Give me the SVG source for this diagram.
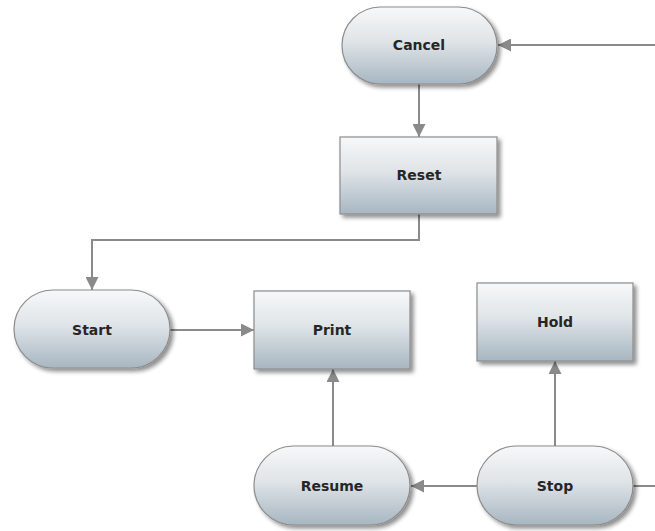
<svg xmlns="http://www.w3.org/2000/svg" width="655" height="531" viewBox="0 0 655 531">
  <style>
    .shape { fill: url(#nodeFill); stroke: #8c8c8c; stroke-width: 1.2; filter: url(#shadow); }
    .label { font-family: "DejaVu Sans", Verdana, sans-serif; font-weight: bold; font-size: 14px; fill: #262626; text-anchor: middle; dominant-baseline: central; }
    .link { fill: none; stroke: #8a8a8a; stroke-width: 2; marker-end: url(#arrow); }
    .plain { fill: none; stroke: #8a8a8a; stroke-width: 2; }
  </style>
  <defs>
    <linearGradient id="nodeFill" x1="0" y1="0" x2="0" y2="1">
      <stop offset="0" stop-color="#f7f8f9"/>
      <stop offset="0.45" stop-color="#dfe4e8"/>
      <stop offset="1" stop-color="#a7b6c1"/>
    </linearGradient>
    <filter id="shadow" x="-10%" y="-10%" width="125%" height="130%">
      <feGaussianBlur in="SourceAlpha" stdDeviation="2"/>
      <feOffset dx="3" dy="3" result="blur"/>
      <feComponentTransfer><feFuncA type="linear" slope="0.45"/></feComponentTransfer>
      <feMerge><feMergeNode/><feMergeNode in="SourceGraphic"/></feMerge>
    </filter>
    <marker id="arrow" viewBox="0 0 10 10" refX="10" refY="5" markerWidth="14" markerHeight="13" markerUnits="userSpaceOnUse" orient="auto">
      <path d="M0,0 L10,5 L0,10 z" fill="#8a8a8a"/>
    </marker>
  </defs>
  <rect width="655" height="531" fill="#ffffff"/>

  <g id="connectors">
    <line class="link" x1="655" y1="45" x2="498" y2="45"/>
    <line class="link" x1="419" y1="84" x2="419" y2="137"/>
    <polyline class="link" points="419,214 419,240 92,240 92,290"/>
    <line class="link" x1="170" y1="330" x2="254" y2="330"/>
    <line class="link" x1="333" y1="446" x2="333" y2="369"/>
    <line class="link" x1="555" y1="446" x2="555" y2="361"/>
    <line class="link" x1="477" y1="486" x2="411" y2="486"/>
    <line class="plain" x1="633" y1="486" x2="655" y2="486"/>
  </g>

  <g id="node-cancel">
    <rect class="shape" x="342" y="7" width="155" height="77" rx="38.5"/>
    <text class="label" x="419" y="45">Cancel</text>
  </g>
  <g id="node-reset">
    <rect class="shape" x="340" y="137" width="157" height="77"/>
    <text class="label" x="419" y="175">Reset</text>
  </g>
  <g id="node-start">
    <rect class="shape" x="14" y="290" width="156" height="78" rx="39"/>
    <text class="label" x="92" y="330">Start</text>
  </g>
  <g id="node-print">
    <rect class="shape" x="254" y="291" width="156" height="78"/>
    <text class="label" x="332" y="330">Print</text>
  </g>
  <g id="node-hold">
    <rect class="shape" x="477" y="283" width="156" height="78"/>
    <text class="label" x="555" y="322">Hold</text>
  </g>
  <g id="node-resume">
    <rect class="shape" x="254" y="446" width="156" height="79" rx="39.5"/>
    <text class="label" x="332" y="486">Resume</text>
  </g>
  <g id="node-stop">
    <rect class="shape" x="477" y="446" width="156" height="79" rx="39.5"/>
    <text class="label" x="555" y="486">Stop</text>
  </g>
</svg>
